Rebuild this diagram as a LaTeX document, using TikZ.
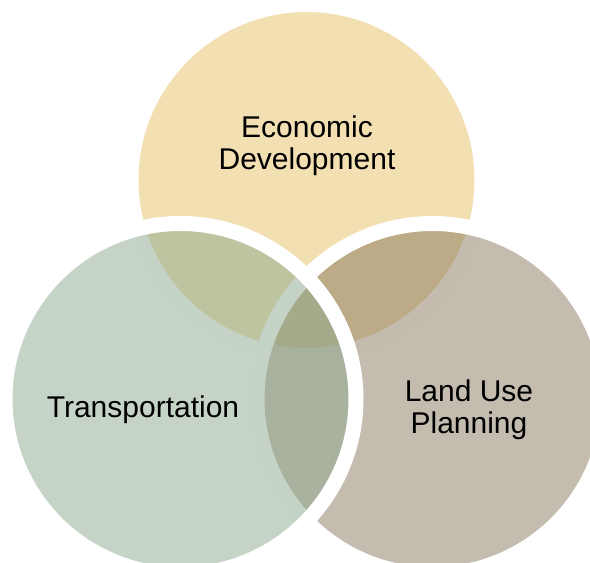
\documentclass[tikz,border=0pt]{standalone}
\usepackage{fontspec}
\setmainfont{Liberation Sans}
\usepackage{tikz}

\definecolor{econcol}{RGB}{229,191,101}
\definecolor{landcol}{RGB}{137,121,95}
\definecolor{transcol}{RGB}{141,169,143}

\begin{document}
\begin{tikzpicture}[x=1pt, y=-1pt,
  venn/.style={circle, draw=white, line width=15pt, fill opacity=.5,
    minimum size=351pt, inner sep=0pt},
  lbl/.style={align=center, font=\fontsize{30}{32}\selectfont}]
  \useasboundingbox (0, 0) rectangle (590, 563);
  \clip (0, 0) rectangle (590, 563);
  \node [venn, fill=econcol] (econ) at (306.5, 180) {};
  \node [venn, fill=landcol] (land) at (432.5, 399) {};
  \node [venn, fill=transcol] (trans) at (180.5, 399) {};
  \node [lbl] (econtext) at (307, 146) {Economic\\Development};
  \node [lbl] (transtext) at (143, 410) {Transportation};
  \node [lbl] (landtext) at (469, 410) {Land Use\\Planning};
\end{tikzpicture}
\end{document}
